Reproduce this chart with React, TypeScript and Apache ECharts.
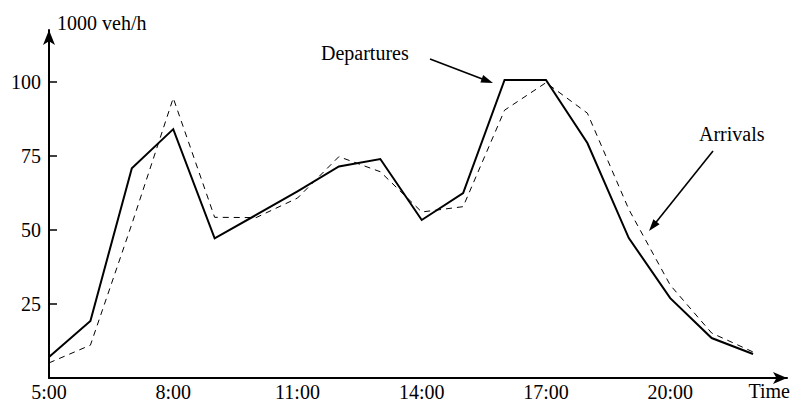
import React, { useEffect, useRef } from "react";
import * as echarts from "echarts";

const hours = [5, 6, 7, 8, 9, 10, 11, 12, 13, 14, 15, 16, 17, 18, 19, 20, 21, 22];
const departures = [7.1, 19.3, 70.9, 84.1, 47.2, 55.1, 63.1, 71.5, 74.0, 53.4, 62.5, 100.7, 100.7, 79.4, 47.3, 27.0, 13.5, 8.1];
const arrivals = [5.1, 11.1, 52.0, 94.6, 54.3, 54.2, 60.8, 74.8, 69.7, 56.1, 57.9, 90.5, 99.8, 89.5, 57.0, 31.4, 15.2, 8.8];
const xTickHours = [5, 8, 11, 14, 17, 20];
const yTickValues = [25, 50, 75, 100];
const yAxisName = "1000 veh/h";
const xAxisName = "Time";
const departuresLabel = "Departures";
const arrivalsLabel = "Arrivals";

const FONT = "Liberation Serif";

function arrowGraphic(x1: number, y1: number, x2: number, y2: number) {
  const ang = Math.atan2(y2 - y1, x2 - x1);
  const L = 12;
  const W = 4;
  const c = Math.cos(ang);
  const s = Math.sin(ang);
  const bx = x2 - L * c;
  const by = y2 - L * s;
  return [
    {
      type: "line",
      shape: { x1, y1, x2: bx + 2 * c, y2: by + 2 * s },
      style: { stroke: "#000", lineWidth: 1.6 },
      silent: true,
    },
    {
      type: "polygon",
      shape: {
        points: [
          [x2, y2],
          [bx + W * s, by - W * c],
          [bx - W * s, by + W * c],
        ],
      },
      style: { fill: "#000" },
      silent: true,
    },
  ];
}

export default function App() {
  const ref = useRef<HTMLDivElement>(null);

  useEffect(() => {
    if (!ref.current) return;
    const chart = echarts.init(ref.current, undefined, { renderer: "svg" });
    const depData = hours.map((h, i) => [h, departures[i]]);
    const arrData = hours.map((h, i) => [h, arrivals[i]]);

    chart.setOption({
      animation: false,
      backgroundColor: "#fff",
      grid: { left: 49, right: 6, top: 30, bottom: 25, containLabel: false },
      xAxis: {
        type: "value",
        min: 5,
        max: 22.82,
        name: xAxisName,
        nameLocation: "end",
        nameGap: 3,
        nameTextStyle: {
          fontFamily: FONT,
          fontSize: 20,
          color: "#000",
          align: "right",
          verticalAlign: "top",
          padding: [3, 0, 0, 0],
        },
        axisLine: {
          show: true,
          symbol: ["none", "arrow"],
          symbolSize: [9, 14],
          lineStyle: { color: "#000", width: 2 },
        },
        axisTick: { show: false },
        splitLine: { show: false },
        axisLabel: {
          customValues: xTickHours,
          formatter: (v: number) => `${v}:00`,
          fontFamily: FONT,
          fontSize: 20,
          color: "#000",
          margin: 4,
        },
      },
      yAxis: {
        type: "value",
        min: 0,
        max: 117.6,
        name: yAxisName,
        nameLocation: "end",
        nameGap: 7,
        nameTextStyle: {
          fontFamily: FONT,
          fontSize: 20,
          color: "#000",
          align: "left",
          verticalAlign: "middle",
          padding: [0, 0, 0, 8],
        },
        axisLine: {
          show: true,
          symbol: ["none", "arrow"],
          symbolSize: [9, 15],
          lineStyle: { color: "#000", width: 2 },
        },
        axisTick: {
          show: true,
          inside: true,
          length: 8,
          customValues: yTickValues,
          lineStyle: { color: "#000", width: 1.5 },
        },
        splitLine: { show: false },
        axisLabel: {
          customValues: yTickValues,
          fontFamily: FONT,
          fontSize: 20,
          color: "#000",
          margin: 8,
        },
      },
      series: [
        {
          name: departuresLabel,
          type: "line",
          data: depData,
          showSymbol: false,
          symbol: "none",
          lineStyle: { color: "#000", width: 2, join: "miter" },
          z: 3,
        },
        {
          name: arrivalsLabel,
          type: "line",
          data: arrData,
          showSymbol: false,
          symbol: "none",
          lineStyle: { color: "#000", width: 1, type: [6, 5] },
          z: 2,
        },
      ],
      graphic: [
        {
          type: "text",
          x: 321,
          y: 53,
          style: {
            text: departuresLabel,
            font: `20px "${FONT}"`,
            fill: "#000",
            textVerticalAlign: "middle",
            verticalAlign: "middle",
          },
          silent: true,
        },
        {
          type: "text",
          x: 699,
          y: 134,
          style: {
            text: arrivalsLabel,
            font: `20px "${FONT}"`,
            fill: "#000",
            textVerticalAlign: "middle",
            verticalAlign: "middle",
          },
          silent: true,
        },
        ...arrowGraphic(430, 59, 493, 83),
        ...arrowGraphic(713, 151, 649, 231),
      ],
    });

    return () => {
      chart.dispose();
    };
  }, []);

  return (
    <div
      ref={ref}
      style={{ position: "absolute", left: 0, top: 0, width: 793, height: 403 }}
    />
  );
}
